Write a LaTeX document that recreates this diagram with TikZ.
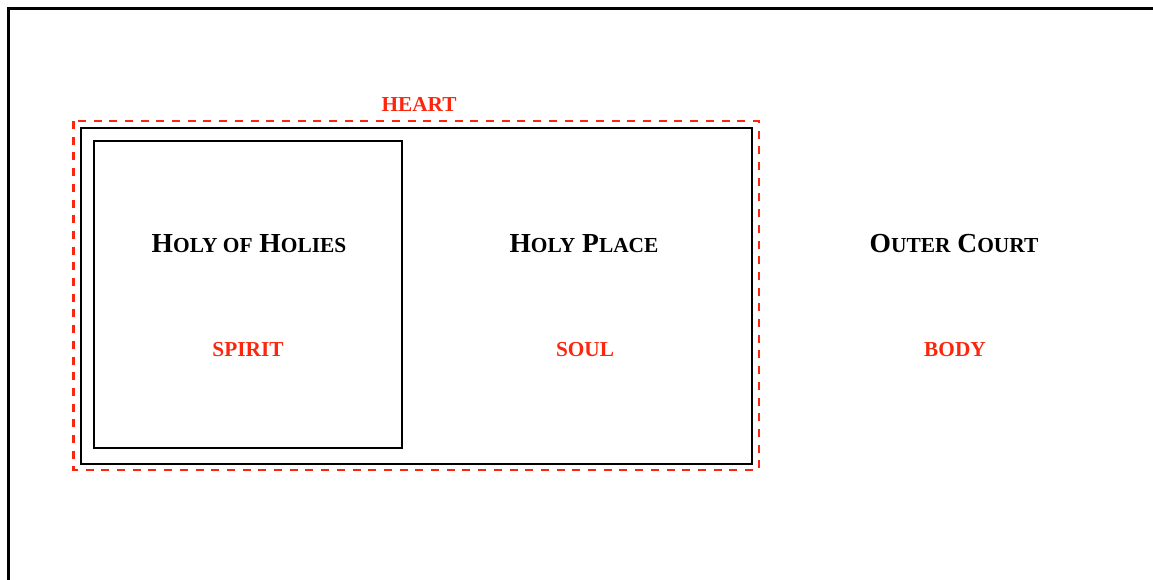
\documentclass[tikz,border=0pt]{standalone}
\usepackage{fontspec}
\setmainfont{Liberation Serif}
\definecolor{hred}{RGB}{252,38,14}
\newcommand\lowcaps[1]{{\fontsize{21.4}{24}\selectfont #1}}
\begin{document}
\begin{tikzpicture}[x=1pt,y=-1pt,
  frame/.style={draw=black,line width=3pt},
  box/.style={draw=black,line width=2.7pt},
  heartbox/.style={draw=hred,line width=2.5pt,dash pattern=on 8pt off 7.7pt},
  room/.style={font=\fontsize{27.5}{30}\selectfont\bfseries,text=black,inner sep=0pt},
  part/.style={font=\fontsize{21.3}{24}\selectfont\bfseries,text=hred,inner sep=0pt}]
\useasboundingbox (0,0) rectangle (1153,579);
\begin{scope}
\clip (0,0) rectangle (1153,579);
\draw[frame] (8,8) rectangle (1170,600);
\end{scope}
\draw[heartbox] (73.5,121) rectangle (759,470);
\draw[box] (81,128) rectangle (752,464);
\draw[box] (94,141) rectangle (402,448);
\node[part] (heart) at (419,104) {HEART};
\node[room] (hoh) at (249,244) {H\lowcaps{OLY OF} H\lowcaps{OLIES}};
\node[room] (hp) at (584,244) {H\lowcaps{OLY} P\lowcaps{LACE}};
\node[room] (oc) at (954,244) {O\lowcaps{UTER} C\lowcaps{OURT}};
\node[part] (spirit) at (248,350) {SPIRIT};
\node[part] (soul) at (585,350) {SOUL};
\node[part] (body) at (955,350) {BODY};
\end{tikzpicture}
\end{document}
